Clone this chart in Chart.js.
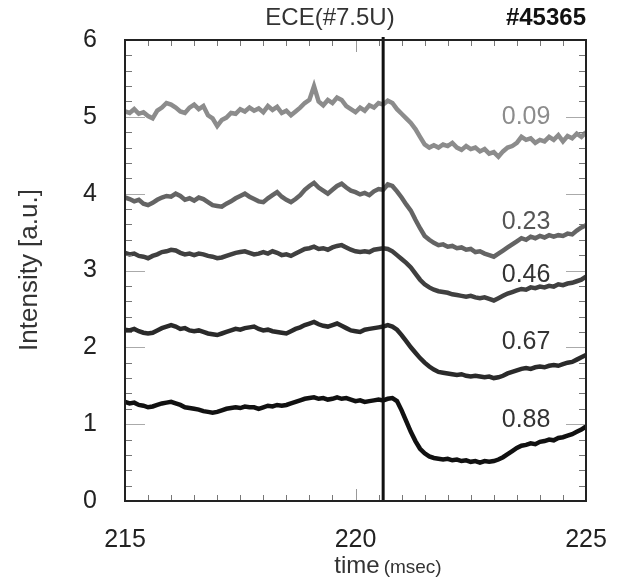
<!DOCTYPE html>
<html>
<head>
<meta charset="utf-8">
<script src="https://cdn.jsdelivr.net/npm/chart.js@4.4.1/dist/chart.umd.min.js"></script>
<style>
  body { margin: 0; background: #fff; }
  canvas { display: block; }
</style>
</head>
<body>
<canvas id="myChart" width="622" height="580"></canvas>
<script>
// sample times (msec)
var times = [
  215.0, 215.1, 215.2, 215.3, 215.4, 215.5, 215.6, 215.7, 215.8, 215.9,
  216.0, 216.1, 216.2, 216.3, 216.4, 216.5, 216.6, 216.7, 216.8, 216.9,
  217.0, 217.1, 217.2, 217.3, 217.4, 217.5, 217.6, 217.7, 217.8, 217.9,
  218.0, 218.1, 218.2, 218.3, 218.4, 218.5, 218.6, 218.7, 218.8, 218.9,
  219.0, 219.1, 219.2, 219.3, 219.4, 219.5, 219.6, 219.7, 219.8, 219.9,
  220.0, 220.1, 220.2, 220.3, 220.4, 220.5, 220.6, 220.7, 220.8, 220.9,
  221.0, 221.1, 221.2, 221.3, 221.4, 221.5, 221.6, 221.7, 221.8, 221.9,
  222.0, 222.1, 222.2, 222.3, 222.4, 222.5, 222.6, 222.7, 222.8, 222.9,
  223.0, 223.1, 223.2, 223.3, 223.4, 223.5, 223.6, 223.7, 223.8, 223.9,
  224.0, 224.1, 224.2, 224.3, 224.4, 224.5, 224.6, 224.7, 224.8, 224.9,
  225.0
];

// ECE channels (normalized radius)
var channels = ['0.09', '0.23', '0.46', '0.67', '0.88'];

var ece009 = [
  5.07, 5.05, 5.10, 5.04, 5.06, 5.01, 4.98, 5.08, 5.12, 5.18,
  5.16, 5.12, 5.07, 5.05, 5.12, 5.16, 5.10, 5.14, 5.02, 4.98,
  4.88, 4.96, 4.99, 5.05, 5.04, 5.10, 5.07, 5.12, 5.08, 5.11,
  5.06, 5.14, 5.09, 5.13, 5.05, 5.08, 5.02, 5.07, 5.12, 5.18,
  5.22, 5.40, 5.20, 5.15, 5.22, 5.18, 5.25, 5.22, 5.14, 5.10,
  5.06, 5.12, 5.08, 5.15, 5.12, 5.18, 5.16, 5.21, 5.18, 5.10,
  5.04, 4.98, 4.92, 4.84, 4.74, 4.64, 4.60, 4.63, 4.60, 4.64,
  4.62, 4.66, 4.60, 4.57, 4.62, 4.58, 4.60, 4.55, 4.58, 4.52,
  4.54, 4.48, 4.55, 4.60, 4.62, 4.66, 4.74, 4.70, 4.72, 4.66,
  4.70, 4.68, 4.74, 4.70, 4.76, 4.68, 4.75, 4.72, 4.78, 4.74,
  4.80
];
var ece023 = [
  3.95, 3.93, 3.90, 3.92, 3.87, 3.85, 3.88, 3.92, 3.95, 3.97,
  3.96, 4.00, 3.97, 3.92, 3.94, 3.91, 3.95, 3.93, 3.89, 3.85,
  3.84, 3.83, 3.87, 3.90, 3.94, 3.97, 4.00, 3.96, 3.93, 3.90,
  3.89, 3.94, 3.98, 4.02, 3.96, 3.92, 3.89, 3.93, 3.98, 4.05,
  4.10, 4.14, 4.08, 4.04, 4.00, 4.05, 4.10, 4.13, 4.08, 4.04,
  4.02, 3.99, 4.01, 3.98, 4.03, 4.06, 4.05, 4.12, 4.10, 4.03,
  3.95, 3.86, 3.78, 3.66, 3.55, 3.45, 3.40, 3.36, 3.33, 3.34,
  3.31, 3.32, 3.29, 3.30, 3.27, 3.28, 3.24, 3.25, 3.22, 3.20,
  3.18, 3.22, 3.26, 3.30, 3.34, 3.38, 3.42, 3.40, 3.44, 3.42,
  3.45, 3.43, 3.46, 3.44, 3.46, 3.45, 3.48, 3.47, 3.52, 3.56,
  3.59
];
var ece046 = [
  3.23, 3.21, 3.22, 3.19, 3.18, 3.16, 3.19, 3.21, 3.24, 3.25,
  3.27, 3.26, 3.23, 3.21, 3.22, 3.20, 3.22, 3.21, 3.19, 3.18,
  3.16, 3.17, 3.19, 3.21, 3.23, 3.24, 3.25, 3.23, 3.21, 3.22,
  3.24, 3.22, 3.25, 3.23, 3.20, 3.21, 3.19, 3.22, 3.25, 3.28,
  3.29, 3.31, 3.28, 3.29, 3.27, 3.30, 3.32, 3.33, 3.30, 3.27,
  3.25, 3.24, 3.25, 3.24, 3.27, 3.28, 3.29, 3.28, 3.25, 3.20,
  3.15, 3.10, 3.04, 2.96, 2.88, 2.82, 2.78, 2.75, 2.73, 2.72,
  2.71, 2.69, 2.68, 2.67, 2.66, 2.67, 2.65, 2.64, 2.65, 2.63,
  2.61, 2.64, 2.67, 2.70, 2.72, 2.74, 2.76, 2.75, 2.78, 2.77,
  2.79, 2.78, 2.80, 2.79, 2.82, 2.81, 2.83, 2.84, 2.86, 2.88,
  2.92
];
var ece067 = [
  2.23, 2.22, 2.24, 2.21, 2.19, 2.18, 2.19, 2.22, 2.25, 2.27,
  2.29, 2.27, 2.24, 2.25, 2.22, 2.21, 2.22, 2.20, 2.18, 2.17,
  2.16, 2.18, 2.20, 2.22, 2.24, 2.23, 2.25, 2.26, 2.27, 2.24,
  2.22, 2.23, 2.21, 2.20, 2.19, 2.18, 2.21, 2.24, 2.26, 2.29,
  2.31, 2.33, 2.30, 2.28, 2.27, 2.29, 2.31, 2.28, 2.25, 2.22,
  2.21, 2.20, 2.23, 2.24, 2.25, 2.26, 2.27, 2.29, 2.27, 2.23,
  2.16, 2.08, 2.00, 1.93, 1.86, 1.80, 1.75, 1.71, 1.68, 1.67,
  1.66, 1.65, 1.64, 1.65, 1.63, 1.62, 1.63, 1.62, 1.61, 1.62,
  1.60, 1.61, 1.63, 1.66, 1.68, 1.70, 1.72, 1.73, 1.72, 1.74,
  1.75, 1.74, 1.76, 1.77, 1.76, 1.78, 1.80, 1.81, 1.84, 1.87,
  1.90
];
var ece088 = [
  1.29, 1.27, 1.28, 1.25, 1.24, 1.22, 1.23, 1.25, 1.27, 1.28,
  1.29, 1.27, 1.25, 1.22, 1.21, 1.20, 1.19, 1.17, 1.16, 1.15,
  1.16, 1.18, 1.20, 1.21, 1.22, 1.21, 1.23, 1.22, 1.22, 1.20,
  1.22, 1.24, 1.23, 1.25, 1.24, 1.25, 1.27, 1.29, 1.31, 1.33,
  1.34, 1.35, 1.33, 1.34, 1.32, 1.33, 1.35, 1.33, 1.34, 1.32,
  1.30, 1.31, 1.29, 1.30, 1.31, 1.32, 1.31, 1.33, 1.34, 1.30,
  1.18, 1.04, 0.90, 0.78, 0.68, 0.62, 0.58, 0.56, 0.55, 0.54,
  0.55, 0.53, 0.54, 0.52, 0.53, 0.51, 0.52, 0.50, 0.52, 0.51,
  0.52, 0.54, 0.57, 0.61, 0.65, 0.69, 0.72, 0.73, 0.75, 0.74,
  0.77, 0.78, 0.80, 0.79, 0.82, 0.83, 0.85, 0.87, 0.90, 0.93,
  0.97
];

var xTicks = [215, 220, 225];
var yTicks = [0, 1, 2, 3, 4, 5, 6];
var markerTime = 220.6;
// where the channel labels sit (data coords)
var labelX = 223.7;
var labelY = [4.99, 3.63, 2.94, 2.07, 1.05];

var colors = ['#8c8c8c', '#646464', '#404040', '#2a2a2a', '#111111'];
var series = [ece009, ece023, ece046, ece067, ece088];
var FONT = '"Liberation Sans", Arial, sans-serif';

function toPoints(vals) {
  return vals.map(function (v, i) { return { x: times[i], y: v }; });
}

var decorations = {
  id: 'decorations',
  afterDatasetsDraw: function (chart) {
    var ctx = chart.ctx, a = chart.chartArea;
    var x = chart.scales.x, y = chart.scales.y;
    ctx.save();

    // inward ticks, all four sides
    ctx.lineWidth = 1;
    for (var t = 215; t <= 225.001; t += 0.5) {
      var px = Math.round(x.getPixelForValue(t)) + 0.5;
      var major = xTicks.indexOf(Math.round(t * 10) / 10) >= 0;
      var len = major ? 12 : 6;
      ctx.strokeStyle = major ? '#999' : '#777';
      ctx.beginPath();
      ctx.moveTo(px, a.bottom); ctx.lineTo(px, a.bottom - len);
      ctx.moveTo(px, a.top); ctx.lineTo(px, a.top + len);
      ctx.stroke();
    }
    for (var k = 0; k <= 30; k++) {
      var v = k * 0.2;
      var py = Math.round(y.getPixelForValue(v)) + 0.5;
      var isMaj = k % 5 === 0;
      var l2 = isMaj ? 20 : 7;
      ctx.strokeStyle = isMaj ? '#aaa' : '#777';
      ctx.beginPath();
      ctx.moveTo(a.left, py); ctx.lineTo(a.left + l2, py);
      ctx.moveTo(a.right, py); ctx.lineTo(a.right - l2, py);
      ctx.stroke();
    }

    // marker line
    var mx = x.getPixelForValue(markerTime);
    ctx.strokeStyle = '#111';
    ctx.lineWidth = 3;
    ctx.beginPath();
    ctx.moveTo(mx, a.top - 3); ctx.lineTo(mx, a.bottom);
    ctx.stroke();

    // frame
    ctx.strokeStyle = '#222';
    ctx.lineWidth = 2;
    ctx.strokeRect(a.left, a.top, a.right - a.left, a.bottom - a.top);

    // channel labels
    ctx.font = '25px ' + FONT;
    ctx.textAlign = 'center';
    ctx.textBaseline = 'middle';
    channels.forEach(function (c, i) {
      ctx.fillStyle = i === 0 ? '#8c8c8c' : (i === 1 ? '#555' : '#333');
      ctx.fillText(c, x.getPixelForValue(labelX), y.getPixelForValue(labelY[i]));
    });

    // titles
    ctx.fillStyle = '#333';
    ctx.font = '24px ' + FONT;
    ctx.textAlign = 'center';
    ctx.textBaseline = 'middle';
    ctx.fillText('ECE(#7.5U)', 330, 18);
    ctx.font = 'bold 24px ' + FONT;
    ctx.textAlign = 'right';
    ctx.fillStyle = '#111';
    ctx.fillText('#45365', a.right, 18);

    // x title: "time" with smaller "(msec)"
    ctx.fillStyle = '#333';
    ctx.textAlign = 'left';
    ctx.font = '24px ' + FONT;
    var w1 = ctx.measureText('time').width;
    ctx.font = '19px ' + FONT;
    var w2 = ctx.measureText('(msec)').width;
    var sx = 388 - (w1 + 4 + w2) / 2;
    ctx.font = '24px ' + FONT;
    ctx.fillText('time', sx, 566);
    ctx.font = '19px ' + FONT;
    ctx.fillText('(msec)', sx + w1 + 4, 568);

    // y title
    ctx.translate(30, 270);
    ctx.rotate(-Math.PI / 2);
    ctx.textAlign = 'center';
    ctx.font = '26px ' + FONT;
    ctx.fillText('Intensity [a.u.]', 0, 0);
    ctx.restore();
  }
};

var ctx = document.getElementById('myChart').getContext('2d');
var myChart = new Chart(ctx, {
  type: 'line',
  data: {
    datasets: series.map(function (s, i) {
      return {
        label: channels[i],
        data: toPoints(s),
        borderColor: colors[i],
        borderWidth: 4.5,
        pointRadius: 0,
        tension: 0,
        fill: false
      };
    })
  },
  options: {
    responsive: false,
    animation: false,
    layout: { padding: { left: 0, right: 36, top: 40, bottom: 0 } },
    plugins: {
      legend: { display: false },
      tooltip: { enabled: false },
      title: { display: false }
    },
    scales: {
      x: {
        type: 'linear',
        min: 215,
        max: 225,
        afterBuildTicks: function (scale) {
          scale.ticks = xTicks.map(function (v) { return { value: v }; });
        },
        afterFit: function (scale) {
          scale.height = 79;
          scale.paddingLeft = 0;
          scale.paddingRight = 0;
        },
        grid: { display: false, drawTicks: false },
        border: { display: false },
        ticks: {
          padding: 24,
          maxRotation: 0,
          color: '#222',
          font: { family: FONT, size: 25 }
        }
      },
      y: {
        min: 0,
        max: 6,
        afterBuildTicks: function (scale) {
          scale.ticks = yTicks.map(function (v) { return { value: v }; });
        },
        afterFit: function (scale) {
          scale.width = 125;
          scale.paddingTop = 0;
          scale.paddingBottom = 0;
        },
        grid: { display: false, drawTicks: false },
        border: { display: false },
        ticks: {
          padding: 28,
          color: '#222',
          font: { family: FONT, size: 25 }
        }
      }
    }
  },
  plugins: [decorations]
});
</script>
</body>
</html>
